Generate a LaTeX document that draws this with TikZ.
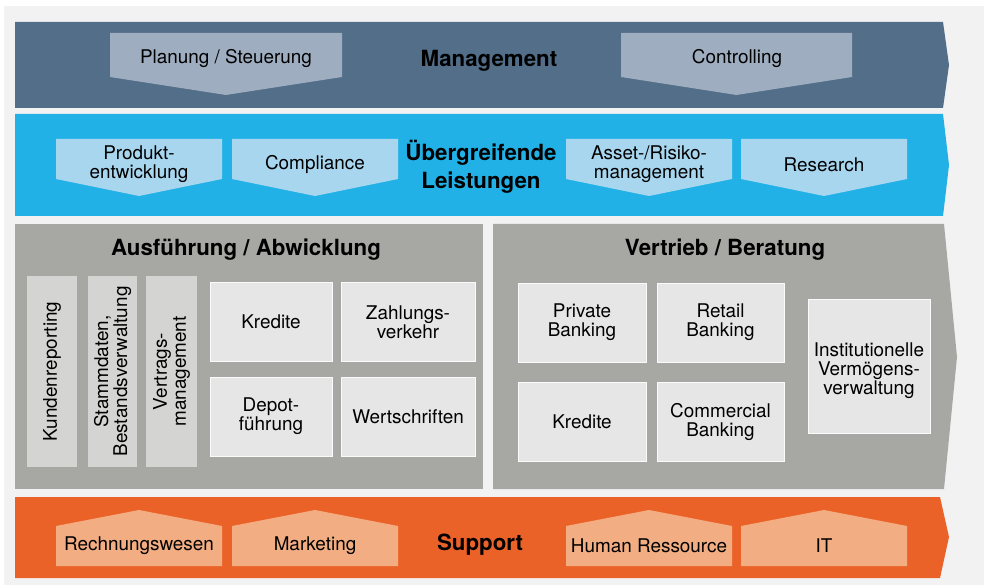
\documentclass[tikz,border=0pt]{standalone}
\usepackage{fontspec}
\setmainfont{TeX Gyre Heros}
\definecolor{bgc}{HTML}{F2F2F2}
\definecolor{mgmt}{HTML}{526E88}
\definecolor{mgmtbox}{HTML}{9EADBF}
\definecolor{ueber}{HTML}{22B1E6}
\definecolor{ueberbox}{HTML}{A8D6EF}
\definecolor{midgray}{HTML}{A7A7A3}
\definecolor{inbox}{HTML}{E6E6E6}
\definecolor{vbox}{HTML}{D4D4D2}
\definecolor{supp}{HTML}{EB6229}
\definecolor{suppbox}{HTML}{F2AE82}
\tikzset{
  txt/.style={inner sep=0pt, align=center, font=\fontsize{18.9}{19}\selectfont},
  ttl/.style={inner sep=0pt, align=center, font=\fontsize{22.3}{27.5}\selectfont\bfseries},
  ibox/.style={txt, fill=inbox, draw=white!85!inbox, line width=0.6pt},
  vertbox/.style={txt, fill=vbox, rotate=90, minimum width=191, minimum height=50},
}
\begin{document}
\begin{tikzpicture}[x=1pt,y=-1pt]
\useasboundingbox (0,0) rectangle (984,585);
\fill[white] (0,0) rectangle (984,585);
\fill[bgc] (4,6) rectangle (984,585);
% bands
\fill[mgmt] (15,22) -- (943,22) -- (949,65) -- (943,108) -- (15,108) -- cycle;
\fill[ueber] (15,114) -- (943,114) -- (949,165) -- (943,216) -- (15,216) -- cycle;
\fill[midgray] (15,224) rectangle (483,489);
\fill[midgray] (493,224) -- (944,224) -- (957,357) -- (944,489) -- (493,489) -- cycle;
\fill[supp] (15,497) -- (940,497) -- (949,537) -- (940,578) -- (15,578) -- cycle;
% management boxes
\fill[mgmtbox] (110,33) -- (342,33) -- (342,77) -- (226,95) -- (110,77) -- cycle;
\fill[mgmtbox] (621,33) -- (852,33) -- (852,77) -- (736.5,95) -- (621,77) -- cycle;
\node[txt] (plan) at (226,59) {Planung / Steuerung};
\node[txt] (contr) at (737,59) {Controlling};
\node[ttl] (mgmtt) at (489,61) {Management};
% uebergreifende boxes
\foreach \a/\b in {56/222,232/398,566/732,741/907}{
  \fill[ueberbox] (\a,139) -- (\b,139) -- (\b,179) -- ({(\a+\b)/2},196) -- (\a,179) -- cycle;
}
\node[txt] (prod) at (139,164) {Produkt-\\entwicklung};
\node[txt] (compl) at (315,165) {Compliance};
\node[txt] (asset) at (649,164) {Asset-/Risiko-\\management};
\node[txt] (resea) at (824,165) {Research};
\node[ttl] (uebt) at (481,167) {Übergreifende\\Leistungen};
% Ausfuehrung
\node[ttl] (ausf) at (246,250) {Ausführung / Abwicklung};
\node[vertbox] (kund) at (52,371.5) {Kundenreporting};
\node[vertbox, minimum height=49] (stamm) at (112.5,371.5) {Stammdaten,\\Bestandsverwaltung};
\node[vertbox, minimum height=51] (vertr) at (171.5,371.5) {Vertrags-\\management};
\node[ibox, minimum width=122, minimum height=79] (kred) at (271,321.5) {Kredite};
\node[ibox, minimum width=134, minimum height=79] (zahl) at (408,322) {Zahlungs-\\verkehr};
\node[ibox, minimum width=122, minimum height=79] (depot) at (271,416.5) {Depot-\\führung};
\node[ibox, minimum width=134, minimum height=79] (wert) at (408,416.5) {Wertschriften};
% Vertrieb
\node[ttl] (vertt) at (725,250) {Vertrieb / Beratung};
\node[ibox, minimum width=128, minimum height=79] (priv) at (582,322.5) {Private\\Banking};
\node[ibox, minimum width=127, minimum height=79] (retail) at (720.5,322.5) {Retail\\Banking};
\node[ibox, minimum width=128, minimum height=79] (kred2) at (582,421.5) {Kredite};
\node[ibox, minimum width=127, minimum height=79] (comm) at (720.5,421.5) {Commercial\\Banking};
\node[fill=inbox, draw=white!85!inbox, line width=0.6pt, minimum width=122, minimum height=134] (inst) at (869,366) {};
\node[txt] (instt) at (869,371) {Institutionelle\\Vermögens-\\verwaltung};
% support boxes
\foreach \a/\b in {56/222,232/398,566/732,741/907}{
  \fill[suppbox] (\a,566) -- (\b,566) -- (\b,526) -- ({(\a+\b)/2},510) -- (\a,526) -- cycle;
}
\node[txt] (rech) at (139,546) {Rechnungswesen};
\node[txt] (mark) at (315,546) {Marketing};
\node[ttl] (suppt) at (480,545) {Support};
\node[txt] (human) at (649,546) {Human Ressource};
\node[txt] (it) at (824,546) {IT};
\end{tikzpicture}
\end{document}
